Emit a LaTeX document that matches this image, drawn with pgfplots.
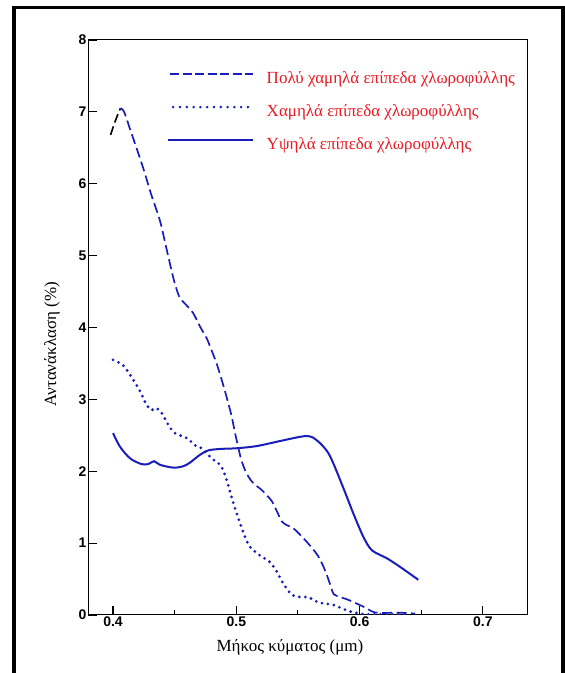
\documentclass[border=0pt]{standalone}
\usepackage{fontspec}
\setmainfont{Liberation Serif}
\newfontfamily\tickfont{Liberation Sans}
\usepackage{pgfplots}
\pgfplotsset{compat=1.18}
\definecolor{curveblue}{RGB}{25,30,185}
\definecolor{legendred}{RGB}{235,25,35}

\begin{document}
\begin{tikzpicture}
% page frame (open at the bottom edge)
\path[use as bounding box] (0pt,0pt) rectangle (565pt,673pt);
\draw[line width=3.5pt] (14pt,-20pt) -- (14pt,665.5pt) -- (563pt,665.5pt) -- (563pt,-20pt);
\begin{axis}[
  at={(88pt,58pt)}, anchor=south west,
  scale only axis, width=439pt, height=575pt,
  xmin=0.3797, xmax=0.7358, ymin=0, ymax=8,
  axis line style={line width=1pt},
  tick align=inside, xtick pos=bottom, ytick pos=left,
  xtick={0.4,0.5,0.6,0.7}, xticklabels={0.4,0.5,0.6,0.7},
  minor xtick={0.45,0.55,0.65},
  ytick={0,1,2,3,4,5,6,7,8}, yticklabels={0,1,2,3,4,5,6,7,8},
  major tick length=9pt, minor tick length=5pt,
  every tick/.style={black, line width=1.1pt},
  ticklabel style={font=\tickfont\bfseries\fontsize{14}{16}\selectfont},
  yticklabel style={inner sep=1.5pt},
  xticklabel style={inner sep=2pt},
  xlabel={Μήκος κύματος (μm)},
  ylabel={Αντανάκλαση (\%)},
  label style={font=\fontsize{17}{20}\selectfont},
  xlabel style={at={(axis description cs:0.46,-0.057)}, anchor=center},
  ylabel style={at={(axis description cs:-0.082,0.471)}, anchor=center, rotate=0},
  legend style={at={(rel axis cs:0.1799,0.948)}, anchor=north west,
    draw=none, fill=none, inner sep=0pt, row sep=15pt,
    font=\fontsize{17}{20}\selectfont, text=legendred,
    nodes={inner sep=0pt, text height=13pt, text depth=5pt},
    cells={anchor=west}},
  legend cell align=left,
]

% very low chlorophyll: short black start, then blue
\addplot[black, line width=1.6pt, dash pattern=on 9pt off 4pt, smooth, forget plot]
  coordinates {(0.398,6.68) (0.402,6.88) (0.406,7.05)};

\addplot[curveblue, line width=1.7pt, dash pattern=on 10pt off 4.5pt, smooth, tension=0.5,
  legend image code/.code={\draw[curveblue, line width=1.7pt, dash pattern=on 9pt off 3.5pt] (0pt,5pt) -- (83pt,5pt); \path (95pt,0pt);}]
  coordinates {
  (0.406,7.05) (0.409,7.00) (0.414,6.75) (0.420,6.45) (0.425,6.19) (0.431,5.85)
  (0.438,5.49) (0.442,5.20) (0.446,4.90) (0.450,4.62) (0.454,4.42) (0.459,4.32)
  (0.465,4.20) (0.471,4.00) (0.476,3.85) (0.480,3.68) (0.484,3.50) (0.488,3.28)
  (0.492,3.04) (0.496,2.78) (0.499,2.53) (0.502,2.30) (0.504,2.16) (0.507,2.02)
  (0.510,1.92) (0.514,1.83) (0.5206,1.74) (0.525,1.66) (0.529,1.58) (0.533,1.44)
  (0.537,1.30) (0.541,1.25) (0.546,1.21) (0.551,1.13) (0.557,1.02) (0.562,0.92)
  (0.566,0.83) (0.570,0.70) (0.574,0.53) (0.577,0.38) (0.579,0.29) (0.584,0.25)
  (0.5895,0.22) (0.595,0.18) (0.600,0.14) (0.605,0.10) (0.610,0.05) (0.615,0.03)
  (0.625,0.03) (0.635,0.03) (0.645,0.02)};
\addlegendentry{Πολύ χαμηλά επίπεδα χλωροφύλλης}

% low chlorophyll
\addplot[curveblue, line width=3.1pt, line cap=round, dash pattern=on 0pt off 6pt, smooth, tension=0.5,
  legend image code/.code={\draw[curveblue, line width=2.8pt, line cap=round, dash pattern=on 0pt off 6.8pt] (3pt,5pt) -- (83pt,5pt); \path (95pt,0pt);}]
  coordinates {
  (0.400,3.55) (0.4084,3.47) (0.4165,3.27) (0.422,3.11) (0.4273,2.92) (0.4314,2.85)
  (0.435,2.88) (0.4395,2.81) (0.445,2.64) (0.4503,2.53) (0.460,2.46) (0.4665,2.36)
  (0.472,2.32) (0.480,2.18) (0.4868,2.09) (0.4908,1.95) (0.495,1.71) (0.499,1.48)
  (0.503,1.28) (0.507,1.09) (0.511,0.95) (0.519,0.83) (0.527,0.74) (0.533,0.60)
  (0.538,0.44) (0.545,0.28) (0.5517,0.25) (0.558,0.25) (0.5625,0.21) (0.568,0.17)
  (0.5787,0.14) (0.586,0.09) (0.592,0.05) (0.600,0.02) (0.606,0.01) (0.620,0.01)
  (0.640,0.01)};
\addlegendentry{Χαμηλά επίπεδα χλωροφύλλης}

% high chlorophyll
\addplot[curveblue, line width=2pt, smooth, tension=0.5,
  legend image code/.code={\draw[curveblue, line width=2pt] (-2pt,5pt) -- (83pt,5pt); \path (95pt,0pt);}]
  coordinates {
  (0.400,2.53) (0.4057,2.34) (0.4138,2.18) (0.423,2.10) (0.4286,2.10) (0.4333,2.14)
  (0.438,2.09) (0.449,2.05) (0.457,2.07) (0.4624,2.12) (0.4706,2.23) (0.4773,2.29)
  (0.4868,2.31) (0.5003,2.32) (0.5165,2.35) (0.5354,2.42) (0.549,2.47) (0.557,2.49)
  (0.562,2.47) (0.568,2.39) (0.574,2.27) (0.5787,2.11) (0.587,1.76) (0.595,1.41)
  (0.603,1.09) (0.610,0.90) (0.622,0.79) (0.6328,0.67) (0.6476,0.49)};
\addlegendentry{Υψηλά επίπεδα χλωροφύλλης}

\end{axis}
\end{tikzpicture}
\end{document}
